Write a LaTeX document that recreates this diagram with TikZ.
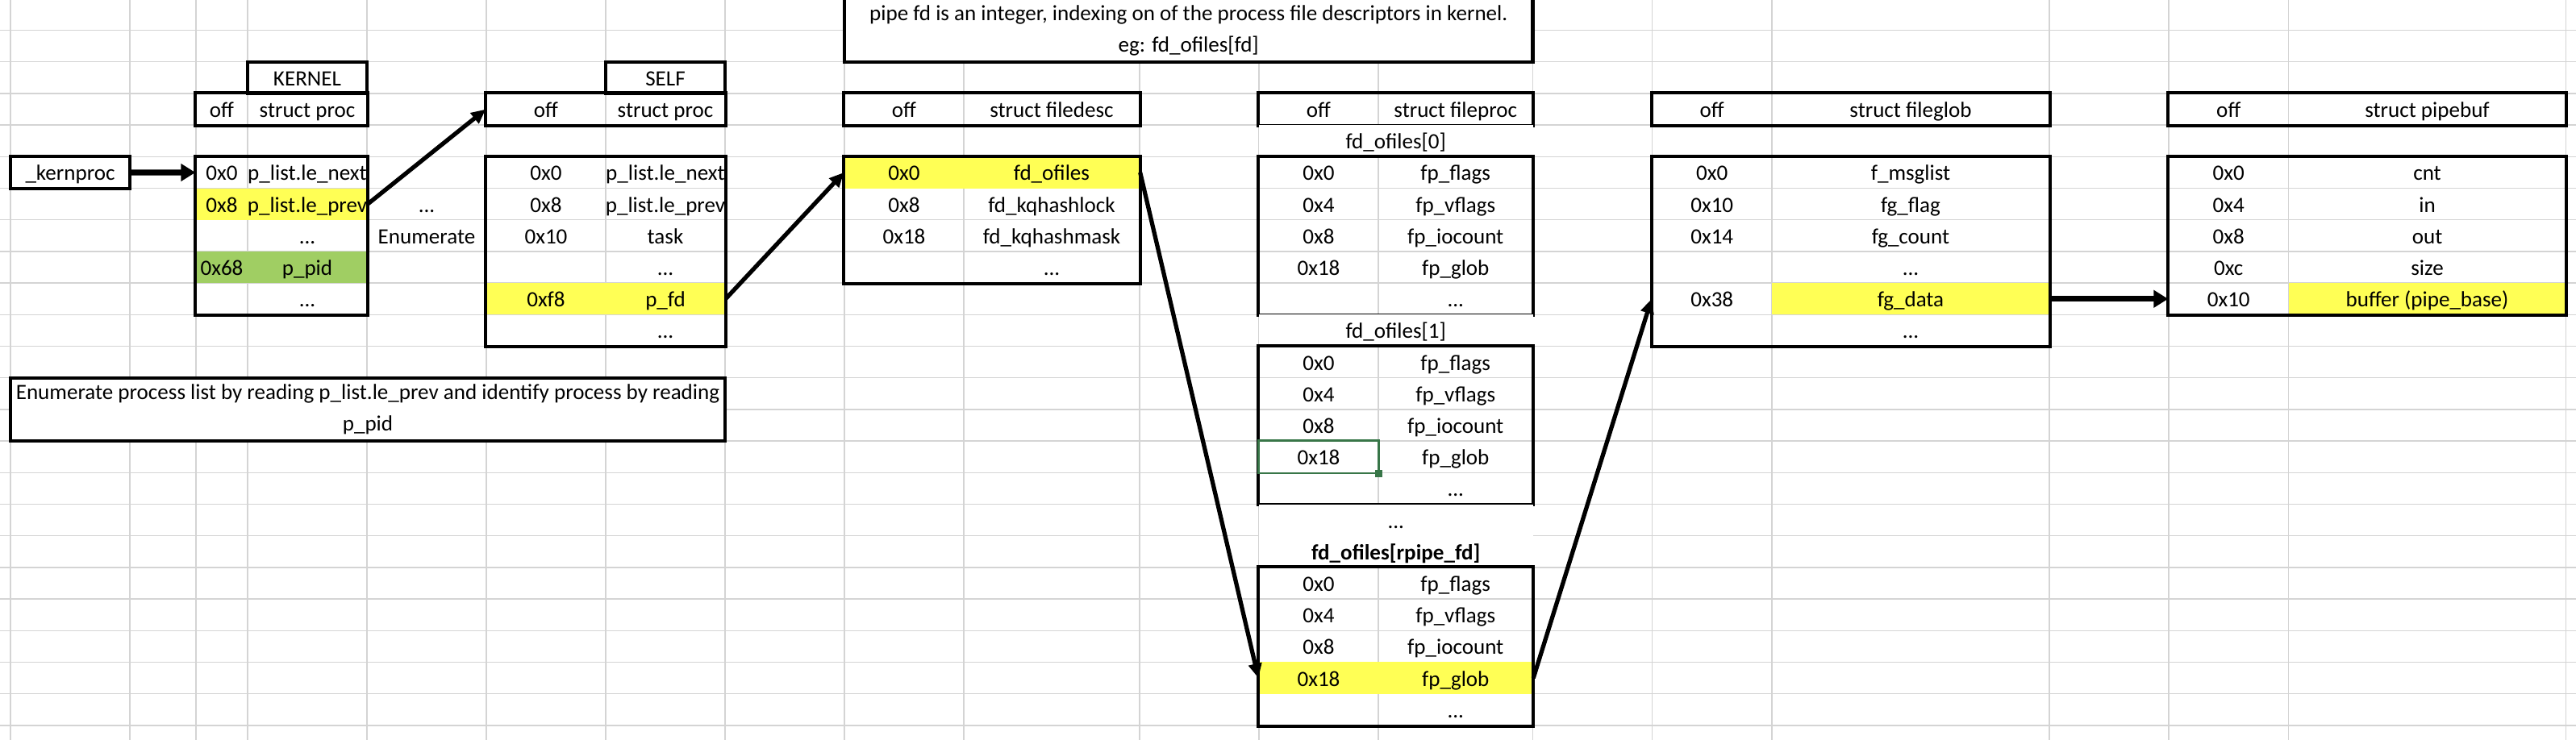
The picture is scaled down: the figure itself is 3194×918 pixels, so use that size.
\documentclass[tikz,border=0pt]{standalone}
\usepackage{fontspec}
\setmainfont{Carlito}
\usepackage{xcolor}
\usetikzlibrary{arrows.meta,positioning,fit,backgrounds}

\definecolor{gridgray}{RGB}{212,212,212}
\definecolor{hlyellow}{RGB}{255,255,85}
\definecolor{pidgreen}{RGB}{160,206,99}
\definecolor{selgreen}{RGB}{56,118,72}

\newcommand{\ddd}{...}

\tikzstyle{cell}=[inner sep=0pt, minimum height=3.92mm, text height=2.4mm, text depth=0.42mm]
\tikzstyle{box}=[draw, line width=1.15pt, inner sep=0pt]
\tikzstyle{merged}=[fill=white]
\tikzstyle{plain}=[fill=none]
\tikzstyle{hl}=[fill=hlyellow]
\tikzstyle{pid}=[fill=pidgreen]
\tikzstyle{ptr}=[-{Triangle[length=1.8mm,width=1.6mm]}, line width=1.5pt]
\tikzstyle{bigptr}=[-{Triangle[length=1.8mm,width=2.1mm]}, line width=2.1pt]

\begin{document}
\begin{tikzpicture}[x=0.1mm, y=-0.1mm, font=\fontsize{7.7}{11.15}\selectfont]
    \useasboundingbox (0,0) rectangle (3194,918);
    \clip (0,0) rectangle (3194,918);

    % Sheet grid
    \begin{scope}[on background layer]
        \fill[white] (0,0) rectangle (3194,918);
        \foreach \x in {13,161,243,307,455,603,751,899,1047,1195,1413,1561,1709,
                1900.5,2048.5,2197,2541,2689,2837.5,3181.6} {
            \draw[gridgray, line width=0.4pt] (\x,0) -- (\x,918);
        }
        \foreach \k in {1,...,23} {
            \draw[gridgray, line width=0.4pt] (0,\k*39.2-1.6) -- (3194,\k*39.2-1.6);
        }
    \end{scope}

    % Note on top
    \node[box, merged, minimum width=85.35mm, minimum height=7.84mm, align=center] (note)
        at (1473.75,37.6) {pipe fd is an integer, indexing on of the process file descriptors in kernel.\\eg: fd\_ofiles[fd]};

    % Headers
    \foreach \tb/\xo/\wo/\xv/\wv/\name in {
            k/275/6.4/381/14.8/struct proc,
            s/677/14.8/825/14.8/struct proc,
            fd/1121/14.8/1304/21.8/struct filedesc,
            fp/1635/14.8/1804.75/19.15/struct fileproc,
            fg/2122.75/14.85/2369/34.4/struct fileglob,
            pb/2763.25/14.85/3009.55/34.41/struct pipebuf} {
        \node[cell, minimum width=\wo mm] (\tb hoff) at (\xo,135.6) {off};
        \node[cell, minimum width=\wv mm] (\tb hval) at (\xv,135.6) {\name};
        \node[box, fit=(\tb hoff) (\tb hval)] (\tb head) {};
    }
    \node[box, cell, minimum width=14.8mm] (kname) at (381,96.4) {KERNEL};
    \node[box, cell, minimum width=14.8mm] (sname) at (825,96.4) {SELF};

    % Kernel proc
    \node[box, cell, minimum width=14.8mm] (kproc) at (87,214) {\_kernproc};
    \foreach \r/\ofs/\fld/\ho/\hv in {
            5/0x0/p\_list.le\_next/plain/plain,
            6/0x8/p\_list.le\_prev/hl/hl,
            7//\ddd/plain/plain,
            8/0x68/p\_pid/pid/pid,
            9//\ddd/plain/plain} {
        \node[cell, \ho, minimum width=6.4mm] (koff\r) at (275,\r*39.2+18) {\ofs};
        \node[cell, \hv, minimum width=14.8mm] (kval\r) at (381,\r*39.2+18) {\fld};
    }
    \node[box, fit=(koff5) (kval9)] (kbody) {};

    \node[cell] (dots) at (529,253.2) {\ddd};
    \node[cell] (enum) at (529,292.4) {Enumerate};

    % Own proc
    \foreach \r/\ofs/\fld/\hs in {
            5/0x0/p\_list.le\_next/plain,
            6/0x8/p\_list.le\_prev/plain,
            7/0x10/task/plain,
            8//\ddd/plain,
            9/0xf8/p\_fd/hl,
            10//\ddd/plain} {
        \node[cell, \hs, minimum width=14.8mm] (soff\r) at (677,\r*39.2+18) {\ofs};
        \node[cell, \hs, minimum width=14.8mm] (sval\r) at (825,\r*39.2+18) {\fld};
    }
    \node[box, fit=(soff5) (sval10)] (sbody) {};

    \node[box, merged, minimum width=88.6mm, minimum height=7.84mm, align=center] (howto)
        at (456,508) {Enumerate process list by reading p\_list.le\_prev and identify process by reading\\p\_pid};

    % Filedesc
    \foreach \r/\ofs/\fld/\hs in {
            5/0x0/fd\_ofiles/hl,
            6/0x8/fd\_kqhashlock/plain,
            7/0x18/fd\_kqhashmask/plain,
            8//\ddd/plain} {
        \node[cell, \hs, minimum width=14.8mm] (fdoff\r) at (1121,\r*39.2+18) {\ofs};
        \node[cell, \hs, minimum width=21.8mm] (fdval\r) at (1304,\r*39.2+18) {\fld};
    }
    \node[box, fit=(fdoff5) (fdval8)] (fdbody) {};

    % Fileprocs
    \foreach \blk/\first/\lbl in {0/5/fd\_ofiles[0], 1/11/fd\_ofiles[1], 2/18/\textbf{fd\_ofiles[rpipe\_fd]}} {
        \node[cell, merged, minimum width=33.95mm] (fp\blk lbl) at (1730.75,\first*39.2-21.2) {\lbl};
        \foreach \rw/\ofs/\fld in {0/0x0/fp\_flags, 1/0x4/fp\_vflags, 2/0x8/fp\_iocount, 3/0x18/fp\_glob, 4//\ddd} {
            \node[cell, minimum width=14.8mm] (fp\blk off\rw) at (1635,\first*39.2+\rw*39.2+18) {\ofs};
            \node[cell, minimum width=19.15mm] (fp\blk val\rw) at (1804.75,\first*39.2+\rw*39.2+18) {\fld};
        }
        \node[box, fit=(fp\blk off0) (fp\blk val4)] (fp\blk body) {};
    }
    \node[cell, merged, minimum width=33.95mm] (fpgap) at (1730.75,645.2) {\ddd};
    \begin{scope}[on background layer]
        \fill[hlyellow] (fp2off3.north west) rectangle (fp2val3.south east);
    \end{scope}
    \draw[selgreen, line width=0.75pt] (fp1off3.north west) rectangle (fp1off3.south east);
    \fill[selgreen] (fp1off3.south east) ++(-4.5,-4.5) rectangle ++(9,9);

    % Fileglob
    \foreach \r/\ofs/\fld/\hs in {
            5/0x0/f\_msglist/plain,
            6/0x10/fg\_flag/plain,
            7/0x14/fg\_count/plain,
            8//\ddd/plain,
            9/0x38/fg\_data/hl,
            10//\ddd/plain} {
        \node[cell, minimum width=14.85mm] (fgoff\r) at (2122.75,\r*39.2+18) {\ofs};
        \node[cell, \hs, minimum width=34.4mm] (fgval\r) at (2369,\r*39.2+18) {\fld};
    }
    \node[box, fit=(fgoff5) (fgval10)] (fgbody) {};

    % Pipebuf
    \foreach \r/\ofs/\fld/\hs in {
            5/0x0/cnt/plain,
            6/0x4/in/plain,
            7/0x8/out/plain,
            8/0xc/size/plain,
            9/0x10/buffer (pipe\_base)/hl} {
        \node[cell, minimum width=14.85mm] (pboff\r) at (2763.25,\r*39.2+18) {\ofs};
        \node[cell, \hs, minimum width=34.41mm] (pbval\r) at (3009.55,\r*39.2+18) {\fld};
    }
    \node[box, fit=(pboff5) (pbval9)] (pbbody) {};

    % Pointers
    \draw[bigptr] (kproc.east) -- (koff5.west);
    \draw[ptr] (kval6.east) -- (shoff.west);
    \draw[ptr] (sval9.east) -- (fdoff5.west);
    \draw[ptr] (fdval5.east) -- (fp2off3.west);
    \draw[ptr] (fp2val3.east) -- (fgoff9.west);
    \draw[bigptr] (fgval9.east) -- (pboff9.west);
\end{tikzpicture}
\end{document}
